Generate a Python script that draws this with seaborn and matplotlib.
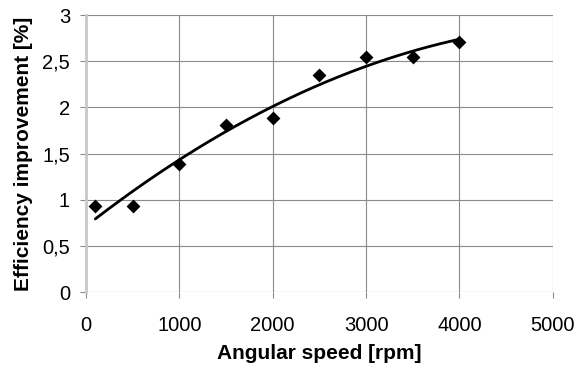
import numpy as np
import pandas as pd
import matplotlib
matplotlib.use("Agg")
import matplotlib.pyplot as plt
import seaborn as sns

# Measured efficiency improvement vs. angular speed
speed_rpm = [100, 500, 1000, 1500, 2000, 2500, 3000, 3500, 4000]
improvement_pct = [0.93, 0.93, 1.39, 1.81, 1.88, 2.35, 2.55, 2.55, 2.71]

x_ticks = [0, 1000, 2000, 3000, 4000, 5000]
y_ticks = [0, 0.5, 1, 1.5, 2, 2.5, 3]
y_tick_labels = ["0", "0,5", "1", "1,5", "2", "2,5", "3"]

df = pd.DataFrame({"speed": speed_rpm, "improvement": improvement_pct})

sns.set_theme(style="white")
plt.rcParams["font.family"] = ["Liberation Sans", "DejaVu Sans"]

fig = plt.figure(figsize=(5.77, 3.66), dpi=100)
ax = fig.add_axes([0.149, 0.202, 0.809, 0.757])

# Second-order polynomial trend line
coef = np.polyfit(df["speed"], df["improvement"], 2)
xs = np.linspace(min(speed_rpm), max(speed_rpm), 200)
trend = pd.DataFrame({"speed": xs, "improvement": np.polyval(coef, xs)})
sns.lineplot(data=trend, x="speed", y="improvement", ax=ax, color="black",
             linewidth=2.0, zorder=3)

sns.scatterplot(data=df, x="speed", y="improvement", ax=ax, marker="D",
                color="black", s=50, edgecolor="black", linewidth=0, zorder=4)

ax.set_xlim(0, 5000)
ax.set_ylim(0, 3)
ax.set_xticks(x_ticks)
ax.set_xticklabels([str(t) for t in x_ticks])
ax.set_yticks(y_ticks)
ax.set_yticklabels(y_tick_labels)

ax.grid(True, color="#8a8a8a", linewidth=0.8)
ax.set_axisbelow(True)
for side in ["top", "right", "bottom"]:
    ax.spines[side].set_visible(False)
ax.spines["left"].set_color("#c8c8c8")
ax.spines["left"].set_linewidth(2.0)

ax.tick_params(axis="x", length=4, width=0.8, color="#8a8a8a", labelsize=14.5,
               pad=13, labelcolor="black", bottom=True)
ax.tick_params(axis="y", length=4.5, width=0.8, color="#8a8a8a", labelsize=14.5,
               pad=7, labelcolor="black", left=True)

ax.set_xlabel("Angular speed [rpm]", fontsize=15, fontweight="bold",
              labelpad=7, color="black")
ax.set_ylabel("Efficiency improvement [%]", fontsize=15, fontweight="bold",
              labelpad=7, color="black")

fig.savefig("out.png", dpi=100, facecolor="white")
